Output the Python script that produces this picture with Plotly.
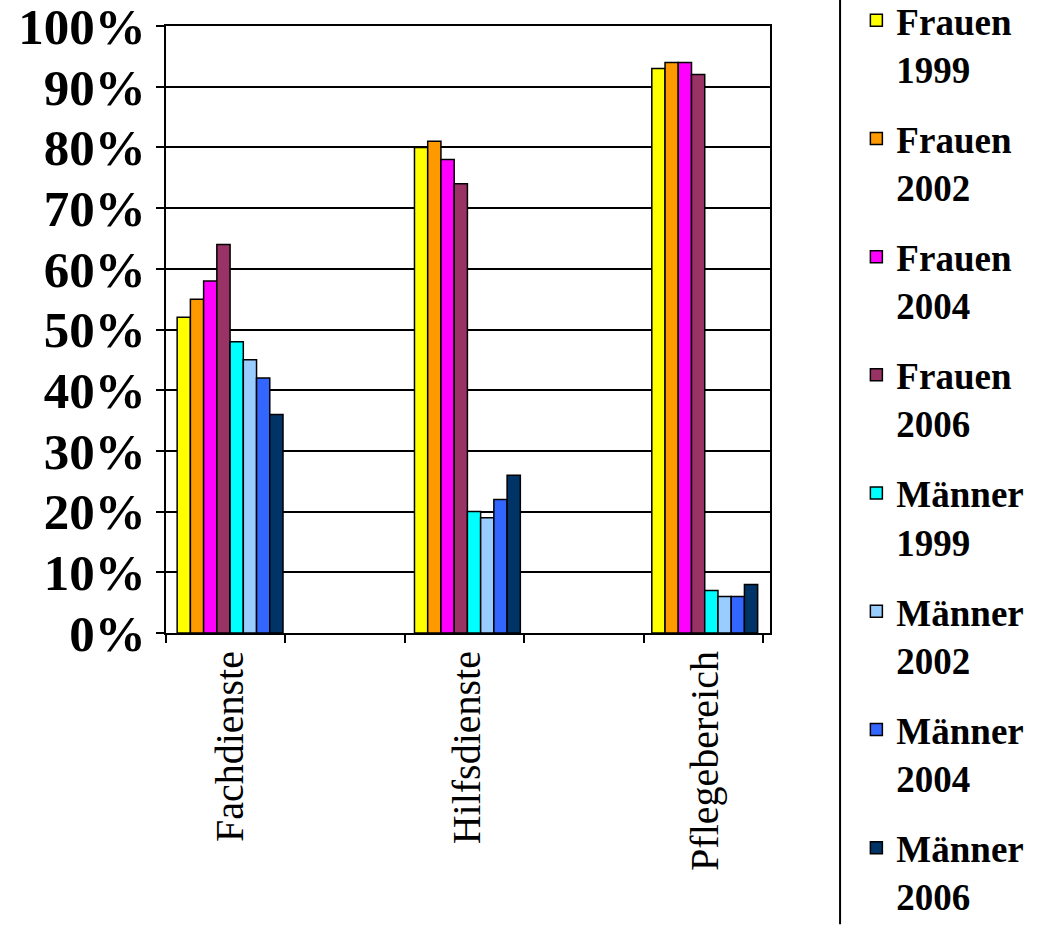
import numpy as np
import plotly.graph_objects as go

categories = ["Fachdienste", "Hilfsdienste", "Pflegebereich"]
series_names = ["Frauen<br>1999", "Frauen<br>2002", "Frauen<br>2004", "Frauen<br>2006",
                "Männer<br>1999", "Männer<br>2002", "Männer<br>2004", "Männer<br>2006"]
frauen_1999 = [52, 80, 93]
frauen_2002 = [55, 81, 94]
frauen_2004 = [58, 78, 94]
frauen_2006 = [64, 74, 92]
maenner_1999 = [48, 20, 7]
maenner_2002 = [45, 19, 6]
maenner_2004 = [42, 22, 6]
maenner_2006 = [36, 26, 8]
series_values = [frauen_1999, frauen_2002, frauen_2004, frauen_2006,
                 maenner_1999, maenner_2002, maenner_2004, maenner_2006]
colors = ["#FFFF00", "#FF9900", "#FF00FF", "#993366",
          "#00FFFF", "#99CCFF", "#3366FF", "#003366"]
y_ticks = list(range(0, 101, 10))
y_tick_labels = [f"{v}%" for v in y_ticks]

FONT = "Liberation Serif"
x_lo, x_hi = -0.27, 2.275
tick_step = 0.503

fig = go.Figure()
for i, (name, vals, col) in enumerate(zip(series_names, series_values, colors)):
    fig.add_trace(go.Bar(
        x=categories, y=vals, name=name,
        marker=dict(color=col, line=dict(color="black", width=1.5)),
        legendgroup=f"g{i}",
    ))

# invisible helper trace to carry secondary x-axis ticks
fig.add_trace(go.Scatter(x=[x_lo, x_hi], y=[0, 0], xaxis="x2", mode="lines",
                         line=dict(width=0), showlegend=False, hoverinfo="skip"))

fig.update_layout(
    width=1046, height=925,
    margin=dict(l=166, r=276, t=26, b=292, autoexpand=False),
    paper_bgcolor="white", plot_bgcolor="white",
    barmode="group", bargap=0.554, bargroupgap=0,
    font=dict(family=FONT, color="black"),
    xaxis=dict(
        type="category", range=[x_lo, x_hi],
        tickangle=-90, ticks="", showline=True, linecolor="black", linewidth=2,
        mirror=True, showgrid=False,
        tickfont=dict(family=FONT, size=40, color="black"),
    ),
    xaxis2=dict(
        overlaying="x", side="bottom", range=[x_lo, x_hi],
        tickvals=[x_lo + k * tick_step for k in range(6)],
        ticks="outside", ticklen=9, tickwidth=2, tickcolor="black",
        showticklabels=False, showgrid=False, showline=False, zeroline=False,
    ),
    yaxis=dict(
        range=[0, 100], tickvals=y_ticks, ticktext=y_tick_labels,
        ticks="outside", ticklen=8, tickwidth=2, tickcolor="black",
        showline=True, linecolor="black", linewidth=2, mirror=True,
        showgrid=True, gridcolor="black", gridwidth=2, zeroline=False,
        ticklabeloverflow="allow",
        tickfont=dict(family=FONT, size=51, color="black", weight="bold"),
    ),
    legend=dict(
        x=1.143, xanchor="left", y=1.0598, yanchor="top",
        font=dict(family=FONT, size=37, color="black", weight="bold"),
        valign="top", tracegroupgap=19.0, traceorder="grouped",
        bgcolor="rgba(0,0,0,0)", maxheight=1200,
    ),
    shapes=[dict(type="line", xref="paper", yref="paper",
                 x0=1.116, x1=1.116, y0=1.045, y1=-0.48,
                 line=dict(color="black", width=2))],
)

fig.write_html("out.html", config={"displayModeBar": False},
               post_script="document.body.style.margin='0';")
